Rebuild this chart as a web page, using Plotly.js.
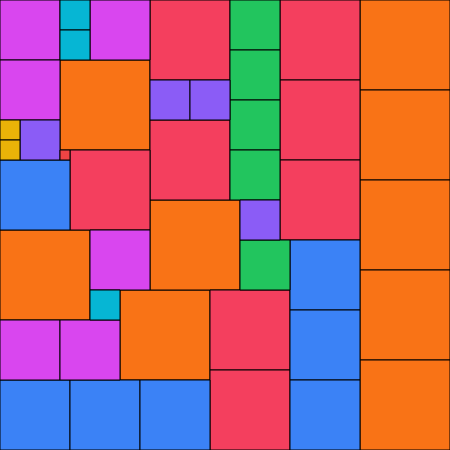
<!DOCTYPE html>
<html>
<head>
<meta charset="utf-8">
<script src="https://cdn.plot.ly/plotly-3.0.1.min.js"></script>
<style>html,body{margin:0;padding:0;background:#fff;}#chart{width:450px;height:450px;}</style>
</head>
<body>
<div id="chart"></div>
<script>
// Square packing: n squares of side n (n = 1..9) in a 45 x 45 square
const sizes = [9,9,9,9,9,9,9,9,9, 8,8,8,8,8,8,8,8, 7,7,7,7,7,7,7, 6,6,6,6,6,6, 5,5,5,5,5, 4,4,4,4, 3,3,3, 2,2, 1];
const cols  = [36,36,36,36,36,6,0,12,15, 28,28,28,15,15,7,21,21, 29,29,29,0,0,7,14, 0,9,0,9,0,6, 23,23,23,23,24, 15,19,2,24, 6,6,9, 0,0, 6];
const rows  = [0,9,18,27,36,6,23,29,20, 0,8,16,0,12,15,29,37, 24,31,38,16,38,38,38, 0,0,6,23,32,32, 0,5,10,15,24, 8,8,12,20, 0,3,29, 12,14, 15];
const sideValues = [1,2,3,4,5,6,7,8,9];
const sideColors = ['#ef4444','#eab308','#06b6d4','#8b5cf6','#22c55e','#d946ef','#3b82f6','#f43f5e','#f97316'];

const traces = sizes.map((s, i) => {
  const x0 = cols[i], y0 = rows[i], x1 = x0 + s, y1 = y0 + s;
  return {
    type: 'scatter', mode: 'lines', fill: 'toself',
    x: [x0, x1, x1, x0, x0], y: [y0, y0, y1, y1, y0],
    fillcolor: sideColors[sideValues.indexOf(s)],
    line: {color: '#000', width: 1},
    hoverinfo: 'skip', showlegend: false
  };
});

Plotly.newPlot('chart', traces, {
  width: 450, height: 450,
  margin: {l: 0, r: 0, t: 0, b: 0, pad: 0},
  paper_bgcolor: '#fff', plot_bgcolor: '#fff',
  xaxis: {range: [0, 45], visible: false, fixedrange: true},
  yaxis: {range: [45, 0], visible: false, fixedrange: true},
  showlegend: false
}, {staticPlot: true, displayModeBar: false});
</script>
</body>
</html>
